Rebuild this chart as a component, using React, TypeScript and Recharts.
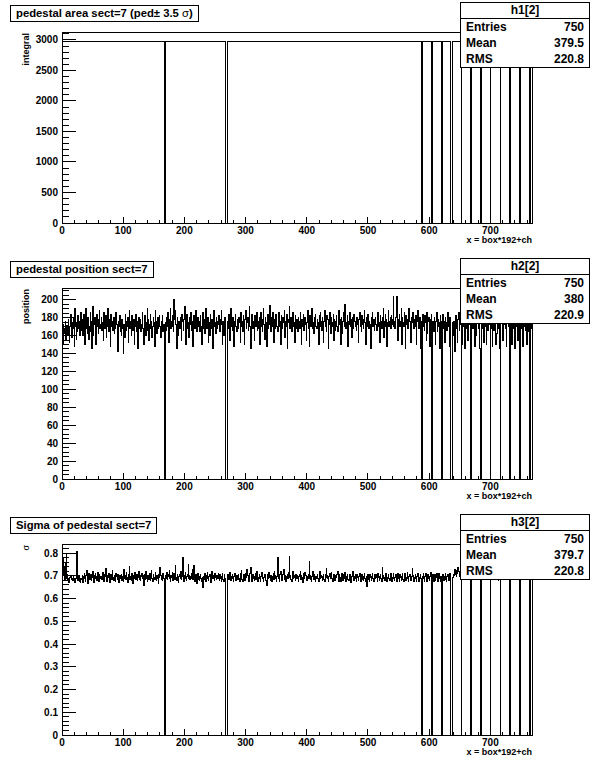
import React from 'react';
import { LineChart, Line, XAxis, YAxis, ReferenceArea } from 'recharts';

// channel index x = box*192+ch, 768 bins
const N_BINS = 768;
const X_MAX = 768;

// dead channels (drop to zero in all three histograms)
const DEAD_BINS = [168, 267, 268, 269, 588, 604, 620, 635, 636, 637, 652, 668, 684, 700, 716, 732, 748, 764];

// integral of the pedestal area, same for every live channel
const AREA_LEVEL = 2981;

// pedestal position per channel
const POSITION = [
  158, 172, 150, 168, 162, 176, 155, 166, 171, 160, 178, 164, 152, 170, 184, 166, 158, 174, 168, 180, 148, 190, 170, 156, 174, 164, 182, 168, 176, 160, 172, 186,
  166, 178, 160, 184, 170, 150, 176, 190, 168, 162, 180, 174, 156, 170, 186, 164, 176, 145, 192, 160, 172, 180, 166, 150, 176, 184, 170, 162, 178, 188, 168, 172,
  180, 166, 174, 155, 186, 176, 168, 182, 158, 174, 170, 190, 164, 178, 172, 148, 184, 170, 176, 166, 180, 162, 174, 168, 186, 172, 160, 142, 176, 170, 182, 164,
  174, 160, 178, 168, 140, 172, 158, 184, 176, 166, 170, 180, 152, 174, 188, 168, 176, 160, 182, 172, 166, 178, 150, 170, 184, 164, 176, 170, 146, 180, 174, 168,
  178, 164, 172, 186, 168, 150, 176, 182, 170, 160, 174, 190, 166, 178, 155, 172, 184, 168, 176, 158, 170, 180, 174, 148, 188, 170, 176, 162, 180, 168, 174, 182,
  170, 158, 176, 168, 182, 164, 172, 150, 170, 174, 166, 180, 170, 186, 152, 178, 172, 190, 168, 176, 182, 170, 164, 200, 178, 188, 172, 146, 180, 174, 160, 176,
  168, 180, 172, 155, 184, 176, 166, 178, 192, 170, 150, 176, 184, 168, 174, 158, 180, 172, 186, 166, 176, 170, 148, 182, 174, 168, 188, 176, 164, 172, 180, 170,
  176, 164, 182, 170, 150, 174, 186, 168, 178, 162, 172, 190, 168, 176, 180, 152, 174, 160, 184, 172, 168, 178, 145, 176, 188, 170, 174, 162, 180, 168, 176, 172,
  182, 170, 164, 178, 188, 172, 150, 176, 160, 174, 180, 170, 170, 170, 176, 168, 184, 172, 155, 178, 190, 170, 166, 180, 174, 148, 176, 184, 170, 164, 178, 172,
  168, 180, 174, 152, 186, 170, 176, 164, 182, 172, 150, 178, 188, 168, 174, 180, 166, 176, 192, 170, 146, 178, 184, 172, 168, 176, 155, 182, 174, 170, 186, 166,
  176, 168, 180, 150, 174, 186, 170, 164, 178, 190, 172, 156, 180, 174, 148, 176, 184, 168, 172, 194, 176, 164, 180, 170, 186, 172, 152, 178, 168, 184, 174, 170,
  164, 178, 186, 170, 176, 150, 182, 172, 168, 180, 174, 188, 158, 176, 170, 184, 145, 178, 174, 192, 168, 172, 180, 164, 176, 186, 170, 174, 152, 182, 168, 178,
  172, 164, 180, 176, 168, 186, 174, 150, 178, 170, 184, 166, 176, 180, 172, 155, 174, 188, 168, 178, 148, 182, 170, 176, 190, 168, 174, 162, 180, 172, 184, 170,
  168, 178, 174, 150, 182, 170, 186, 176, 166, 180, 172, 152, 176, 188, 170, 174, 164, 182, 178, 146, 172, 186, 176, 162, 180, 170, 174, 184, 155, 178, 166, 176,
  182, 170, 164, 176, 188, 172, 178, 150, 180, 174, 162, 176, 186, 170, 195, 178, 168, 174, 182, 148, 176, 172, 186, 170, 178, 158, 180, 174, 168, 184, 176, 170,
  174, 166, 180, 172, 152, 178, 186, 170, 176, 164, 182, 172, 168, 178, 188, 174, 150, 176, 180, 170, 184, 168, 176, 172, 146, 180, 174, 186, 170, 178, 166, 176,
  180, 172, 166, 178, 186, 170, 174, 152, 182, 176, 168, 180, 172, 190, 158, 176, 184, 170, 178, 148, 174, 188, 170, 176, 180, 168, 182, 172, 178, 203, 170, 176,
  168, 180, 186, 203, 172, 155, 178, 184, 170, 176, 190, 150, 180, 174, 170, 186, 176, 146, 182, 172, 178, 168, 184, 190, 176, 170, 152, 180, 174, 186, 172, 168,
  178, 170, 182, 150, 176, 188, 172, 168, 180, 174, 145, 176, 170, 184, 170, 178, 166, 182, 174, 155, 186, 162, 176, 180, 172, 148, 178, 184, 170, 170, 176, 164,
  180, 172, 150, 176, 186, 164, 178, 170, 174, 145, 182, 176, 170, 170, 184, 168, 176, 152, 180, 174, 172, 166, 186, 178, 170, 148, 180, 170, 170, 170, 174, 160,
  176, 170, 142, 182, 168, 174, 152, 178, 186, 166, 172, 180, 170, 176, 150, 170, 184, 174, 146, 178, 168, 182, 170, 155, 176, 186, 172, 150, 170, 174, 180, 168,
  170, 178, 148, 182, 174, 160, 176, 186, 168, 172, 180, 145, 170, 174, 168, 182, 176, 152, 172, 186, 170, 150, 178, 174, 166, 180, 172, 184, 170, 168, 176, 148,
  178, 166, 180, 172, 184, 150, 162, 176, 188, 168, 174, 146, 170, 176, 182, 170, 155, 178, 172, 186, 168, 176, 148, 180, 174, 170, 184, 166, 170, 178, 172, 150,
  172, 180, 168, 176, 145, 184, 170, 178, 174, 155, 180, 172, 170, 176, 186, 168, 174, 148, 178, 170, 182, 166, 176, 150, 180, 170, 164, 178, 170, 174, 168, 176,
];

// pedestal sigma per channel, in 1/1000
const SIGMA_MILLI = [
  720, 780, 700, 740, 680, 760, 690, 800, 705, 680, 690, 670, 680, 692, 700, 684, 690, 678, 700, 688, 680, 672, 690, 700, 805, 690, 680, 700, 688, 676, 670, 690,
  684, 702, 671, 695, 712, 688, 676, 703, 725, 690, 668, 698, 711, 683, 694, 706, 679, 691, 718, 685, 672, 700, 709, 687, 696, 681, 714, 693, 675, 704, 689, 698,
  699, 683, 716, 690, 674, 706, 695, 731, 688, 677, 701, 692, 712, 684, 669, 697, 708, 686, 723, 694, 680, 703, 690, 675, 711, 698, 684, 706, 692, 671, 700, 687,
  693, 708, 681, 697, 676, 728, 689, 700, 684, 715, 693, 672, 705, 690, 741, 686, 699, 680, 711, 694, 667, 702, 688, 716, 683, 698, 707, 679, 692, 719, 686, 701,
  681, 696, 712, 688, 700, 659, 693, 707, 684, 721, 690, 676, 703, 695, 686, 710, 681, 699, 724, 688, 673, 705, 691, 684, 714, 697, 680, 702, 690, 668, 708, 694,
  736, 702, 686, 698, 681, 712, 690, 676, 690, 703, 689, 716, 682, 697, 708, 725, 688, 675, 700, 693, 714, 681, 697, 709, 686, 745, 692, 679, 704, 688, 671, 699,
  706, 690, 718, 685, 697, 781, 689, 675, 703, 716, 688, 679, 695, 708, 751, 687, 700, 683, 696, 711, 690, 726, 684, 744, 693, 677, 705, 690, 668, 699, 712, 686,
  678, 696, 707, 688, 674, 692, 648, 697, 685, 709, 692, 676, 701, 714, 688, 681, 697, 706, 690, 672, 698, 719, 687, 703, 693, 680, 709, 691, 684, 702, 688, 710,
  693, 679, 706, 688, 675, 697, 712, 686, 673, 705, 690, 690, 690, 690, 688, 707, 682, 695, 713, 686, 678, 699, 708, 689, 674, 696, 711, 688, 681, 703, 694, 685,
  705, 690, 677, 698, 712, 723, 686, 673, 697, 708, 689, 679, 711, 692, 727, 700, 686, 675, 697, 709, 738, 689, 676, 694, 705, 688, 680, 699, 711, 686, 719, 693,
  677, 692, 706, 688, 673, 698, 715, 702, 687, 676, 694, 708, 691, 679, 658, 695, 706, 687, 716, 692, 679, 703, 688, 674, 697, 709, 686, 721, 702, 688, 676, 695,
  779, 703, 688, 676, 705, 718, 689, 679, 697, 708, 728, 686, 702, 691, 674, 697, 707, 688, 716, 784, 691, 703, 686, 675, 706, 719, 688, 701, 693, 680, 704, 687,
  702, 688, 675, 697, 706, 717, 684, 703, 691, 672, 695, 709, 688, 716, 701, 686, 678, 697, 706, 689, 763, 703, 686, 677, 695, 709, 718, 686, 704, 690, 676, 697,
  688, 704, 690, 673, 706, 719, 687, 702, 692, 678, 697, 708, 686, 675, 705, 692, 734, 701, 688, 676, 697, 709, 690, 704, 716, 688, 674, 695, 707, 689, 681, 703,
  692, 705, 717, 688, 676, 706, 693, 674, 690, 709, 691, 679, 704, 688, 716, 693, 677, 695, 708, 686, 678, 698, 707, 689, 672, 696, 710, 721, 688, 679, 695, 706,
  687, 676, 706, 692, 681, 697, 710, 688, 674, 695, 707, 686, 680, 698, 711, 689, 676, 695, 651, 692, 704, 686, 677, 705, 693, 680, 697, 709, 688, 675, 694, 706,
  688, 706, 692, 677, 709, 691, 680, 696, 708, 687, 674, 735, 689, 703, 692, 678, 697, 711, 687, 676, 694, 707, 690, 681, 698, 712, 686, 675, 693, 709, 688, 679,
  691, 704, 686, 677, 695, 712, 688, 674, 706, 692, 681, 697, 709, 686, 675, 698, 710, 687, 680, 694, 716, 688, 676, 697, 708, 689, 679, 696, 733, 703, 688, 676,
  694, 707, 688, 676, 697, 712, 689, 675, 693, 706, 687, 680, 690, 698, 711, 688, 676, 695, 709, 686, 674, 697, 707, 689, 678, 696, 713, 688, 690, 697, 708, 676,
  690, 705, 678, 694, 709, 687, 675, 697, 711, 688, 674, 696, 690, 688, 707, 692, 679, 698, 712, 686, 673, 697, 708, 690, 681, 695, 712, 690, 690, 690, 693, 708,
  702, 716, 727, 708, 698, 724, 711, 736, 719, 706, 697, 725, 710, 713, 728, 699, 715, 722, 707, 696, 724, 712, 698, 709, 726, 701, 714, 721, 710, 708, 697, 724,
  714, 698, 726, 709, 695, 686, 713, 724, 697, 711, 684, 703, 700, 715, 698, 688, 712, 701, 727, 699, 686, 714, 703, 689, 698, 716, 702, 687, 700, 697, 713, 686,
  703, 688, 716, 698, 684, 702, 714, 689, 697, 681, 703, 717, 700, 687, 706, 692, 715, 699, 683, 704, 691, 718, 697, 686, 705, 690, 714, 701, 700, 686, 707, 693,
  698, 684, 713, 702, 690, 705, 687, 716, 699, 683, 706, 692, 700, 704, 718, 688, 702, 685, 699, 714, 690, 705, 686, 702, 717, 689, 704, 683, 700, 706, 690, 712,
];

const STATS = [
  { name: 'h1[2]', entries: '750', mean: '379.5', rms: '220.8' },
  { name: 'h2[2]', entries: '750', mean: '380', rms: '220.9' },
  { name: 'h3[2]', entries: '750', mean: '379.7', rms: '220.8' },
];

const TITLES = ['pedestal area sect=7 (ped\u00b1 3.5 ', 'pedestal position sect=7', 'Sigma of pedestal sect=7'];
const Y_TITLES = ['integral', 'position', '\u03c3'];

// tick marks: max, minor step, major step per panel
const Y_AXES = [
  { max: 3130, minor: 100, major: 500 },
  { max: 213, minor: 5, major: 20 },
  { max: 0.84, minor: 0.02, major: 0.1 },
];
const X_MINOR = 20;
const X_MAJOR = 100;

const FONT = '"Liberation Sans", Arial, Helvetica, sans-serif';

const W = 596;
const H = 256;
const PLOT_LEFT = 62;
const PLOT_RIGHT = 532;
const PLOT_TOP = 32;
const PLOT_BOTTOM = 223;

const dead = new Set(DEAD_BINS);

function buildSeries(values: (i: number) => number) {
  const rows: { x: number; v: number }[] = [];
  for (let i = 0; i < N_BINS; i++) {
    rows.push({ x: i, v: dead.has(i) ? 0 : values(i) });
  }
  rows.push({ x: N_BINS, v: rows[N_BINS - 1].v });
  return rows;
}

const SERIES = [
  buildSeries(() => AREA_LEVEL),
  buildSeries((i) => POSITION[i]),
  buildSeries((i) => SIGMA_MILLI[i] / 1000),
];

function makeTicks(max: number, step: number) {
  const out: number[] = [];
  const n = Math.floor(max / step + 1e-6);
  for (let i = 0; i <= n; i++) out.push(Number((i * step).toFixed(4)));
  return out;
}

const X_TICKS = makeTicks(760, X_MINOR);

function isMajor(v: number, major: number) {
  const r = v / major;
  return Math.abs(r - Math.round(r)) < 1e-6;
}

function fmt(v: number) {
  return String(Number(v.toFixed(2)));
}

const XTick = (props: any) => {
  const { x, y, payload } = props;
  const major = isMajor(payload.value, X_MAJOR);
  return (
    <g>
      <line x1={x} x2={x} y1={y} y2={y - (major ? 6 : 3)} stroke="#000" />
      {major && (
        <text x={x} y={y + 11} textAnchor="middle" fontSize={10} fontWeight="bold" fontFamily={FONT} fill="#000">
          {fmt(payload.value)}
        </text>
      )}
    </g>
  );
};

const makeYTick = (majorStep: number) => (props: any) => {
  const { x, y, payload } = props;
  const major = isMajor(payload.value, majorStep);
  return (
    <g>
      <line x1={x} x2={x + (major ? 14 : 7)} y1={y} y2={y} stroke="#000" />
      {major && (
        <text x={x - 4} y={y + 3.5} textAnchor="end" fontSize={10} fontWeight="bold" fontFamily={FONT} fill="#000">
          {fmt(payload.value)}
        </text>
      )}
    </g>
  );
};

function StatsBox({ s }: { s: (typeof STATS)[number] }) {
  const row: React.CSSProperties = {
    display: 'flex',
    justifyContent: 'space-between',
    height: 16,
    lineHeight: '16px',
    padding: '0 5px',
  };
  return (
    <div
      style={{
        position: 'absolute',
        left: 460,
        top: 2,
        width: 128,
        border: '1px solid #000',
        background: '#fff',
        fontFamily: FONT,
        fontWeight: 'bold',
        fontSize: 12,
      }}
    >
      <div style={{ textAlign: 'center', height: 15, lineHeight: '15px', borderBottom: '1px solid #000' }}>{s.name}</div>
      <div style={row}><span>Entries</span><span>{s.entries}</span></div>
      <div style={row}><span>Mean</span><span>{s.mean}</span></div>
      <div style={row}><span>RMS</span><span>{s.rms}</span></div>
    </div>
  );
}

function Panel({ idx }: { idx: number }) {
  const ax = Y_AXES[idx];
  const yTicks = makeTicks(ax.max, ax.minor);
  return (
    <div style={{ position: 'relative', width: W, height: H }}>
      <LineChart
        width={W}
        height={H}
        data={SERIES[idx]}
        margin={{ top: PLOT_TOP, right: W - PLOT_RIGHT, bottom: 0, left: 0 }}
        style={{ shapeRendering: 'crispEdges' }}
      >
        <XAxis
          dataKey="x"
          type="number"
          domain={[0, X_MAX]}
          allowDataOverflow
          ticks={X_TICKS}
          interval={0}
          tickLine={false}
          tickSize={0}
          tickMargin={0}
          tick={XTick}
          height={H - PLOT_BOTTOM}
          axisLine={{ stroke: '#000' }}
        />
        <YAxis
          type="number"
          domain={[0, ax.max]}
          allowDataOverflow
          ticks={yTicks}
          interval={0}
          tickLine={false}
          tickSize={0}
          tickMargin={0}
          tick={makeYTick(ax.major)}
          width={PLOT_LEFT}
          axisLine={{ stroke: '#000' }}
        />
        <ReferenceArea x1={0} x2={X_MAX} y1={0} y2={ax.max} fill="none" stroke="#000" strokeOpacity={1} fillOpacity={0} />
        <Line type="stepAfter" dataKey="v" stroke="#000" strokeWidth={1} dot={false} isAnimationActive={false} />
      </LineChart>

      <div
        style={{
          position: 'absolute',
          left: 10,
          top: 5,
          height: 15,
          lineHeight: '15px',
          padding: '0 5px',
          border: '1px solid #000',
          background: '#fff',
          fontFamily: FONT,
          fontWeight: 'bold',
          fontSize: 11.3,
          whiteSpace: 'nowrap',
        }}
      >
        {TITLES[idx]}
        {idx === 0 && (
          <>
            <span style={{ fontWeight: 'normal' }}>{'\u03c3'}</span>)
          </>
        )}
      </div>

      <StatsBox s={STATS[idx]} />

      <div
        style={{
          position: 'absolute',
          left: 21,
          top: PLOT_TOP + 1,
          transformOrigin: 'top left',
          transform: 'rotate(-90deg) translateX(-100%)',
          fontFamily: FONT,
          fontWeight: idx === 2 ? 'normal' : 'bold',
          fontSize: 9,
          lineHeight: '11px',
          whiteSpace: 'nowrap',
        }}
      >
        {Y_TITLES[idx]}
      </div>

      <div
        style={{
          position: 'absolute',
          right: W - PLOT_RIGHT,
          top: PLOT_BOTTOM + 12,
          fontFamily: FONT,
          fontWeight: 'bold',
          fontSize: 9,
          lineHeight: '11px',
          whiteSpace: 'nowrap',
        }}
      >
        x = box*192+ch
      </div>
    </div>
  );
}

export default function App() {
  return (
    <div style={{ position: 'absolute', left: 0, top: 0, width: W, height: 768, background: '#fff' }}>
      <Panel idx={0} />
      <Panel idx={1} />
      <Panel idx={2} />
    </div>
  );
}
